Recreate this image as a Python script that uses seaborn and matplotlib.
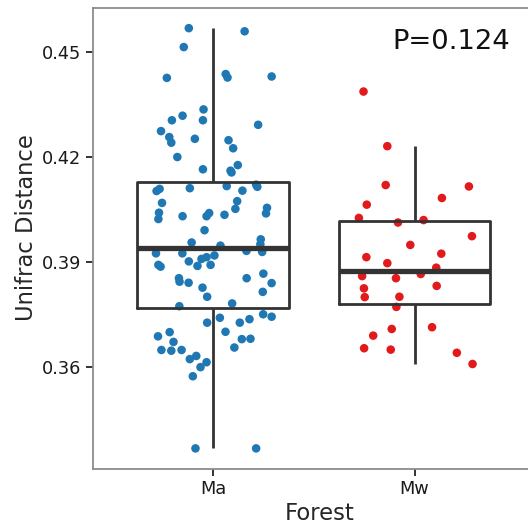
import matplotlib
matplotlib.use("Agg")
import matplotlib.pyplot as plt
import numpy as np
import pandas as pd
import seaborn as sns

# Unifrac distances, per forest type
forests = ["Ma", "Mw"]
ma_values = [
    0.4567, 0.4558, 0.4513, 0.4425, 0.4436, 0.4426, 0.4429, 0.4335, 0.4304, 0.4317,
    0.4304, 0.4291, 0.4273, 0.4256, 0.4240, 0.4251, 0.4247, 0.4224, 0.4199, 0.4164,
    0.4176, 0.4160, 0.4155, 0.4102, 0.4108, 0.4110, 0.4116, 0.4120, 0.4114, 0.4103,
    0.4068, 0.4073, 0.4051, 0.4054, 0.4038, 0.4040, 0.4022, 0.4030, 0.4030, 0.4039,
    0.4034, 0.3990, 0.3955, 0.3964, 0.3950, 0.3946, 0.3924, 0.3924, 0.3931, 0.3928,
    0.3901, 0.3908, 0.3913, 0.3918, 0.3888, 0.3891, 0.3891, 0.3886, 0.3853, 0.3843,
    0.3840, 0.3853, 0.3866, 0.3839, 0.3826, 0.3814, 0.3800, 0.3773, 0.3781, 0.3726,
    0.3740, 0.3726, 0.3736, 0.3750, 0.3743, 0.3687, 0.3699, 0.3671, 0.3648, 0.3646,
    0.3648, 0.3700, 0.3679, 0.3680, 0.3655, 0.3622, 0.3631, 0.3613, 0.3599, 0.3573,
    0.3367, 0.3367,
]
ma_jitter = [
    -0.120, 0.157, -0.145, -0.229, 0.063, 0.072, 0.291, -0.047, -0.204, -0.151,
    -0.050, 0.224, -0.258, -0.217, -0.207, -0.090, 0.077, 0.100, -0.177, -0.050,
    0.123, 0.087, 0.092, -0.280, -0.265, -0.115, 0.068, 0.214, 0.220, 0.146,
    -0.253, 0.120, 0.111, 0.268, 0.263, -0.268, -0.271, -0.151, -0.032, -0.019,
    0.057, -0.042, -0.106, 0.237, 0.235, 0.037, -0.283, -0.152, 0.166, 0.244,
    -0.120, -0.057, -0.032, 0.007, -0.077, -0.012, -0.271, -0.260, -0.169, -0.166,
    -0.121, 0.167, 0.250, 0.291, -0.052, 0.247, -0.029, -0.167, 0.095, -0.029,
    0.034, 0.133, 0.181, 0.249, 0.291, -0.273, -0.215, -0.196, -0.256, -0.207,
    -0.156, 0.062, 0.143, 0.186, 0.106, -0.115, -0.083, -0.032, -0.062, -0.100,
    -0.087, 0.214,
]
mw_values = [
    0.4386, 0.4230, 0.4119, 0.4115, 0.4082, 0.4063, 0.4025, 0.4019, 0.4012, 0.3973,
    0.3948, 0.3923, 0.3913, 0.3896, 0.3883, 0.3859, 0.3865, 0.3853, 0.3824, 0.3831,
    0.3799, 0.3800, 0.3771, 0.3708, 0.3713, 0.3689, 0.3653, 0.3649, 0.3640, 0.3608,
]
mw_jitter = [
    -0.253, -0.135, -0.143, 0.270, 0.136, -0.237, -0.276, 0.045, -0.082, 0.285,
    -0.021, 0.133, -0.239, -0.135, 0.108, -0.260, 0.031, -0.092, -0.251, 0.110,
    -0.247, -0.075, -0.090, -0.113, 0.087, -0.205, -0.250, -0.118, 0.210, 0.288,
]
y_ticks = [0.36, 0.39, 0.42, 0.45]
p_label = "P=0.124"
colors = {"Ma": "#1f78b4", "Mw": "#e31a1c"}

df = pd.DataFrame({
    "Forest": ["Ma"] * len(ma_values) + ["Mw"] * len(mw_values),
    "Unifrac": ma_values + mw_values,
    "Jitter": ma_jitter + mw_jitter,
})
df["Xpos"] = df["Forest"].map({f: i for i, f in enumerate(forests)}) + df["Jitter"]

sns.set_theme(style="ticks")
plt.rcParams["font.family"] = ["DejaVu Sans"]

fig = plt.figure(figsize=(5.28, 5.28), dpi=100)
ax = fig.add_axes([92.5 / 528, 59.3 / 528, 455 / 528, 461.2 / 528])

sns.boxplot(
    data=df, x="Forest", y="Unifrac", order=forests, ax=ax,
    width=0.75, fill=False, color="#333333", linewidth=2.0,
    showfliers=False, showcaps=False,
    medianprops=dict(linewidth=3.8, color="#333333"),
)
sns.scatterplot(
    data=df, x="Xpos", y="Unifrac", hue="Forest", palette=colors, ax=ax,
    s=38, linewidth=0, legend=False, zorder=0.5,
)

ax.set_xlim(-0.598, 1.660)
ax.set_ylim(0.3309, 0.4626)
ax.set_xticks(range(len(forests)))
ax.set_xticklabels(forests)
ax.set_yticks(y_ticks)
ax.set_yticklabels([f"{t:.2f}" for t in y_ticks])

ax.set_xlabel("Forest", fontsize=16.3, labelpad=3)
ax.set_ylabel("Unifrac Distance", fontsize=16.3)
ax.yaxis.set_label_coords(-0.1204, 0.522)
ax.tick_params(axis="both", direction="out", length=5, width=1.4,
               color="#333333", labelsize=12.8, labelcolor="#1a1a1a", pad=3,
               bottom=True, left=True, top=False, right=False)

for side in ["left", "bottom", "top"]:
    ax.spines[side].set_color("#8c8c8c")
    ax.spines[side].set_linewidth(1.3)
ax.spines["right"].set_visible(False)

fig.text(392 / 528, 1 - 49 / 528, p_label, fontsize=19.7, ha="left",
         va="baseline", color="#111111")

fig.savefig("out.png", dpi=100)
